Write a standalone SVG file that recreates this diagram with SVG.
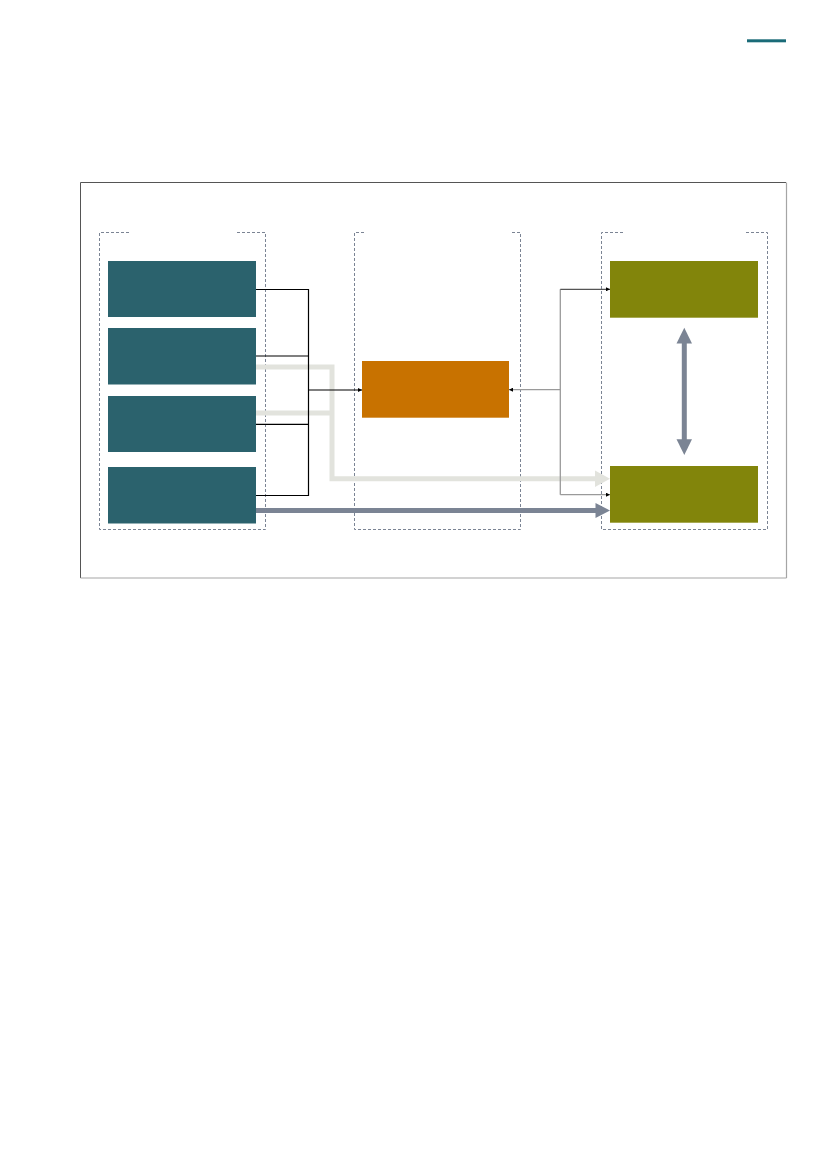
<svg xmlns="http://www.w3.org/2000/svg" width="827" height="1169" viewBox="0 0 827 1169">
<style>
.teal{fill:#2b626d}
.olive{fill:#82850b}
.orange{fill:#c87200}
.grp{fill:none;stroke:#7b8494;stroke-width:1;stroke-dasharray:3,2}
.thin{fill:none;stroke:#000;stroke-width:1.2}
.gthin{fill:none;stroke:#9a9a9a;stroke-width:1.3}
.light{fill:none;stroke:#e2e3dd;stroke-width:5}
.dark{fill:none;stroke:#7b8494;stroke-width:5}
</style>
<defs>
<marker id="sm" viewBox="0 0 10 10" refX="10" refY="5" markerWidth="4" markerHeight="4" markerUnits="userSpaceOnUse" orient="auto"><path d="M0,0 L10,5 L0,10 z" fill="#000"/></marker>
</defs>
<rect x="747" y="39.3" width="39" height="3" fill="#1a6b78"/>
<g id="frame">
<line x1="80.5" y1="182.5" x2="786" y2="182.5" stroke="#555" stroke-width="1"/>
<line x1="80.5" y1="182.5" x2="80.5" y2="578" stroke="#555" stroke-width="1"/>
<line x1="80.5" y1="578" x2="786.5" y2="578" stroke="#a5a5a5" stroke-width="1.2"/>
<line x1="786.5" y1="182.5" x2="786.5" y2="578" stroke="#a5a5a5" stroke-width="1.2"/>
</g>
<g id="group-left"><path class="grp" d="M129,232.5 H99.5 V529.5 H265.5 V232.5 H235"/></g>
<g id="group-mid"><path class="grp" d="M364,232.5 H354.5 V529.5 H520.5 V232.5 H511"/></g>
<g id="group-right"><path class="grp" d="M623,232.5 H601.5 V529.5 H767.5 V232.5 H746"/></g>
<g id="connectors">
<polyline class="light" points="256,367 332,367 332,478.7 597,478.7"/>
<line class="light" x1="256" y1="413" x2="332" y2="413"/>
<path d="M595,470.5 L610,478.7 L595,486.9 z" fill="#e2e3dd"/>
<line class="dark" x1="256" y1="510.5" x2="597" y2="510.5"/>
<path d="M595.5,503 L610,510.5 L595.5,518 z" fill="#7b8494"/>
<line class="dark" x1="684.3" y1="340" x2="684.3" y2="443"/>
<path d="M676.5,343.5 L684.3,327.7 L692,343.5 z" fill="#7b8494"/>
<path d="M676.5,439.3 L684.3,455 L692,439.3 z" fill="#7b8494"/>
<path class="thin" d="M256,289.5 H308.5 V495.5 H256"/>
<line class="thin" x1="256" y1="356" x2="308.5" y2="356"/>
<line class="thin" x1="256" y1="424.3" x2="308.5" y2="424.3"/>
<line class="thin" x1="308.5" y1="390" x2="362" y2="390" marker-end="url(#sm)"/>
<line class="gthin" x1="560.3" y1="389.7" x2="509" y2="389.7" marker-end="url(#sm)"/>
<line class="gthin" x1="560.3" y1="289.3" x2="560.3" y2="494.7"/>
<line x1="560.3" y1="289.3" x2="610" y2="289.3" stroke="#555" stroke-width="1.2" marker-end="url(#sm)"/>
<line class="gthin" x1="560.3" y1="494.7" x2="610" y2="494.7" marker-end="url(#sm)"/>
</g>
<g id="node-a1"><rect class="teal" x="108" y="261" width="148" height="56"/></g>
<g id="node-a2"><rect class="teal" x="108" y="328" width="148" height="56.5"/></g>
<g id="node-a3"><rect class="teal" x="108" y="396" width="148" height="56"/></g>
<g id="node-a4"><rect class="teal" x="108" y="467" width="148" height="56.5"/></g>
<g id="node-center"><rect class="orange" x="362" y="361" width="147" height="56.7"/></g>
<g id="node-r1"><rect class="olive" x="610" y="261" width="148" height="56.7"/></g>
<g id="node-r2"><rect class="olive" x="610" y="466" width="148" height="56.7"/></g>
</svg>
